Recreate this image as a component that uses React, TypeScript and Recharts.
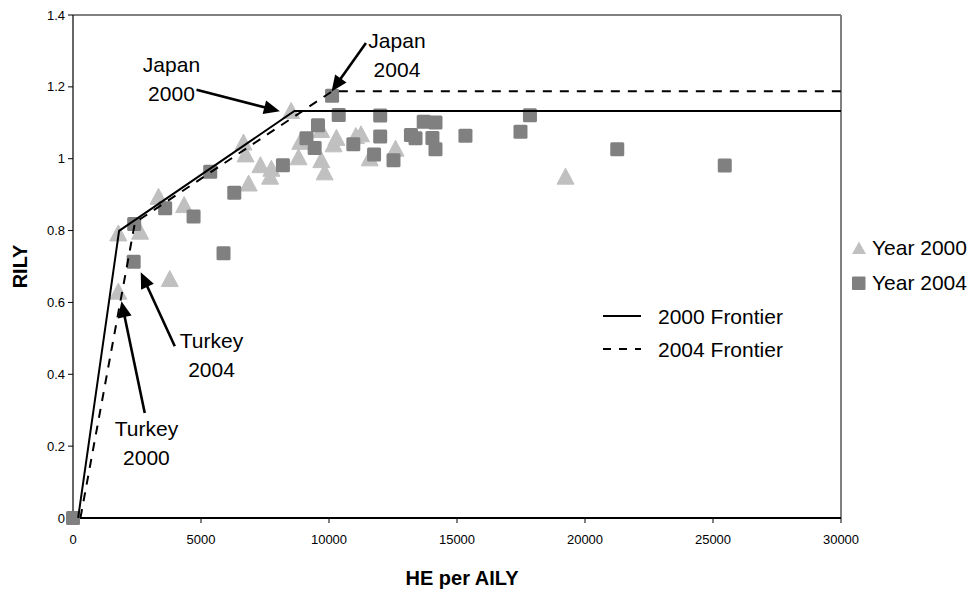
import React from 'react';
import {
  ComposedChart,
  Scatter,
  XAxis,
  YAxis,
  ReferenceLine,
  ReferenceDot,
  Legend,
} from 'recharts';

// ---------- data ----------
const xTicks = [0, 5000, 10000, 15000, 20000, 25000, 30000];
const yTicks = [0, 0.2, 0.4, 0.6, 0.8, 1, 1.2, 1.4];

const year2000 = [
  { x: 1770, y: 0.792 },
  { x: 2620, y: 0.797 },
  { x: 1770, y: 0.63 },
  { x: 3780, y: 0.665 },
  { x: 3340, y: 0.894 },
  { x: 4340, y: 0.871 },
  { x: 6660, y: 1.045 },
  { x: 6740, y: 1.012 },
  { x: 6860, y: 0.931 },
  { x: 7320, y: 0.982 },
  { x: 7750, y: 0.972 },
  { x: 7700, y: 0.95 },
  { x: 8520, y: 1.133 },
  { x: 8810, y: 1.004 },
  { x: 8880, y: 1.047 },
  { x: 9690, y: 1.08 },
  { x: 9700, y: 0.996 },
  { x: 9830, y: 0.962 },
  { x: 10290, y: 1.058 },
  { x: 10180, y: 1.04 },
  { x: 11050, y: 1.063 },
  { x: 11250, y: 1.068 },
  { x: 11590, y: 1.001 },
  { x: 12600, y: 1.028 },
  { x: 19240, y: 0.95 },
];

const year2004 = [
  { x: 0, y: 0 },
  { x: 2390, y: 0.818 },
  { x: 2370, y: 0.713 },
  { x: 3600, y: 0.862 },
  { x: 4710, y: 0.839 },
  { x: 5360, y: 0.964 },
  { x: 5880, y: 0.737 },
  { x: 6300, y: 0.905 },
  { x: 8200, y: 0.982 },
  { x: 9120, y: 1.057 },
  { x: 9440, y: 1.03 },
  { x: 9570, y: 1.093 },
  { x: 10120, y: 1.175 },
  { x: 10380, y: 1.122 },
  { x: 10950, y: 1.04 },
  { x: 11760, y: 1.012 },
  { x: 12000, y: 1.12 },
  { x: 12000, y: 1.062 },
  { x: 12520, y: 0.996 },
  { x: 13200, y: 1.066 },
  { x: 13380, y: 1.057 },
  { x: 13700, y: 1.103 },
  { x: 14040, y: 1.058 },
  { x: 14160, y: 1.101 },
  { x: 14160, y: 1.026 },
  { x: 15330, y: 1.064 },
  { x: 17480, y: 1.075 },
  { x: 17850, y: 1.121 },
  { x: 21260, y: 1.026 },
  { x: 25460, y: 0.981 },
];

const frontier2000 = [
  { x: 200, y: 0 },
  { x: 1800, y: 0.799 },
  { x: 8650, y: 1.133 },
  { x: 30000, y: 1.133 },
];

const frontier2004 = [
  { x: 290, y: 0 },
  { x: 2420, y: 0.822 },
  { x: 10130, y: 1.188 },
  { x: 30000, y: 1.188 },
];

// annotation text blocks (centre in data units) and arrows (from -> to, data units)
const annotations = [
  { lines: ['Japan', '2000'], tx: 3847, ty: 1.223, x1: 4824, y1: 1.192, x2: 8081, y2: 1.132 },
  { lines: ['Japan', '2004'], tx: 12655, ty: 1.29, x1: 11443, y1: 1.322, x2: 10101, y2: 1.187 },
  { lines: ['Turkey', '2004'], tx: 5411, ty: 0.455, x1: 3976, y1: 0.478, x2: 2647, y2: 0.684 },
  { lines: ['Turkey', '2000'], tx: 2869, ty: 0.21, x1: 2803, y1: 0.292, x2: 1892, y2: 0.603 },
];

// ---------- styling ----------
const FONT = '"Liberation Sans", Arial, Helvetica, sans-serif';
const TRI_COLOR = '#c0c0c0';
const SQ_COLOR = '#808080';
const DASH = '9 8';

const Triangle = (p: any) => {
  const { cx, cy } = p;
  if (cx == null || cy == null) return <g />;
  return (
    <polygon
      points={`${cx},${cy - 8.5} ${cx - 8.5},${cy + 7.5} ${cx + 8.5},${cy + 7.5}`}
      fill={TRI_COLOR}
      stroke={TRI_COLOR}
      strokeWidth={1}
      strokeLinejoin="round"
    />
  );
};

const Square = (p: any) => {
  const { cx, cy } = p;
  if (cx == null || cy == null) return <g />;
  return <rect x={cx - 7} y={cy - 7} width={14} height={14} rx={1.5} fill={SQ_COLOR} />;
};

const NoShape = () => <g />;

const Arrow = (p: any) => {
  const { x1, y1, x2, y2 } = p;
  if ([x1, y1, x2, y2].some((v) => v == null || isNaN(v))) return <g />;
  const dx = x2 - x1;
  const dy = y2 - y1;
  const len = Math.hypot(dx, dy) || 1;
  const ux = dx / len;
  const uy = dy / len;
  const hl = 16;
  const hw = 7;
  const bx = x2 - ux * hl;
  const by = y2 - uy * hl;
  return (
    <g>
      <line x1={x1} y1={y1} x2={bx + ux * 2} y2={by + uy * 2} stroke="#000" strokeWidth={2.6} />
      <polygon
        points={`${x2},${y2} ${bx - uy * hw},${by + ux * hw} ${bx + uy * hw},${by - ux * hw}`}
        fill="#000"
      />
    </g>
  );
};

const makeTextBlock = (lines: string[]) => (p: any) => {
  const { cx, cy } = p;
  if (cx == null || cy == null) return <g />;
  const gap = 29;
  const start = cy - ((lines.length - 1) * gap) / 2;
  return (
    <text textAnchor="middle" fontFamily={FONT} fontSize={21} fill="#000">
      {lines.map((l, i) => (
        <tspan key={i} x={cx} y={start + i * gap} dominantBaseline="central">
          {l}
        </tspan>
      ))}
    </text>
  );
};

const legendPos: Record<string, { iconX: number; textX: number; cy: number }> = {
  'Year 2000': { iconX: 851, textX: 872, cy: 248 },
  'Year 2004': { iconX: 851, textX: 872, cy: 283 },
  '2000 Frontier': { iconX: 603, textX: 658, cy: 317 },
  '2004 Frontier': { iconX: 603, textX: 658, cy: 350 },
};

const LegendIcon = ({ name }: { name: string }) => {
  if (name === 'Year 2000')
    return (
      <svg width={16} height={14}>
        <polygon points="8,0.5 1,13 15,13" fill={TRI_COLOR} />
      </svg>
    );
  if (name === 'Year 2004')
    return (
      <svg width={16} height={14}>
        <rect x={1} y={0.5} width={13.5} height={13.5} rx={1} fill={SQ_COLOR} />
      </svg>
    );
  return (
    <svg width={40} height={6}>
      <line
        x1={0}
        y1={3}
        x2={38}
        y2={3}
        stroke="#000"
        strokeWidth={2}
        strokeDasharray={name === '2004 Frontier' ? '8 8' : undefined}
      />
    </svg>
  );
};

const renderLegend = (props: any) => {
  const payload: any[] = props.payload || [];
  return (
    <div style={{ position: 'relative', width: 0, height: 0, fontFamily: FONT }}>
      {payload.map((entry: any) => {
        const name = String(entry.value);
        const pos = legendPos[name];
        if (!pos) return null;
        const isLine = name.includes('Frontier');
        return (
          <React.Fragment key={name}>
            <div
              style={{
                position: 'absolute',
                left: pos.iconX,
                top: pos.cy - (isLine ? 4 : 7),
                lineHeight: 0,
              }}
            >
              <LegendIcon name={name} />
            </div>
            <div
              style={{
                position: 'absolute',
                left: pos.textX,
                top: pos.cy - 12,
                fontSize: 21,
                lineHeight: '24px',
                whiteSpace: 'nowrap',
                color: '#000',
              }}
            >
              {name}
            </div>
          </React.Fragment>
        );
      })}
    </div>
  );
};

const YTitle = (p: any) => {
  const vb = p.viewBox || { x: 23, y: 15, width: 50, height: 503 };
  const cx = vb.x - 3;
  const cy = vb.y + vb.height / 2;
  return (
    <text
      x={cx}
      y={cy}
      transform={`rotate(-90, ${cx}, ${cy})`}
      textAnchor="middle"
      dominantBaseline="central"
      fontFamily={FONT}
      fontWeight="bold"
      fontSize={20}
      fill="#000"
    >
      RILY
    </text>
  );
};

const XTitle = (p: any) => {
  const vb = p.viewBox || { x: 73, y: 518, width: 768, height: 30 };
  const cx = vb.x + vb.width / 2 + 5;
  const cy = 578;
  return (
    <text
      x={cx}
      y={cy}
      textAnchor="middle"
      dominantBaseline="central"
      fontFamily={FONT}
      fontWeight="bold"
      fontSize={20}
      fill="#000"
    >
      HE per AILY
    </text>
  );
};

export default function App() {
  return (
    <div
      style={{
        position: 'absolute',
        left: 0,
        top: 0,
        width: 973,
        height: 597,
        background: '#fff',
        fontFamily: FONT,
      }}
    >
      <ComposedChart width={973} height={597} margin={{ top: 15, right: 132, bottom: 49, left: 23 }}>
        <XAxis
          type="number"
          dataKey="x"
          domain={[0, 30000]}
          ticks={xTicks}
          interval={0}
          height={30}
          tickSize={5}
          tickMargin={12}
          axisLine={{ stroke: '#000', strokeWidth: 2 }}
          tickLine={{ stroke: '#000', strokeWidth: 1 }}
          tick={{ fontSize: 13, fill: '#000', fontFamily: FONT }}
          label={<XTitle />}
        />
        <YAxis
          type="number"
          dataKey="y"
          domain={[0, 1.4]}
          ticks={yTicks}
          interval={0}
          width={50}
          tickSize={5}
          tickMargin={3}
          axisLine={{ stroke: '#000', strokeWidth: 1.2 }}
          tickLine={{ stroke: '#000', strokeWidth: 1 }}
          tick={{ fontSize: 13, fill: '#000', fontFamily: FONT }}
          tickFormatter={(v: number) => String(v)}
          label={<YTitle />}
        />
        <ReferenceLine y={1.4} stroke="#808080" strokeWidth={2} ifOverflow="visible" />
        <ReferenceLine x={30000} stroke="#808080" strokeWidth={2} ifOverflow="visible" />

        <Scatter
          name="Year 2000"
          data={year2000}
          fill={TRI_COLOR}
          shape={Triangle}
          legendType="triangle"
          isAnimationActive={false}
        />
        <Scatter
          name="Year 2004"
          data={year2004}
          fill={SQ_COLOR}
          shape={Square}
          legendType="square"
          isAnimationActive={false}
        />
        <Scatter
          name="2000 Frontier"
          data={frontier2000}
          fill="#000"
          shape={NoShape}
          line={{ stroke: '#000', strokeWidth: 2 }}
          lineType="joint"
          legendType="line"
          isAnimationActive={false}
        />
        <Scatter
          name="2004 Frontier"
          data={frontier2004}
          fill="#000"
          shape={NoShape}
          line={{ stroke: '#000', strokeWidth: 2, strokeDasharray: DASH }}
          lineType="joint"
          legendType="line"
          isAnimationActive={false}
        />

        {annotations.map((a, i) => (
          <ReferenceLine
            key={`arrow-${i}`}
            segment={[
              { x: a.x1, y: a.y1 },
              { x: a.x2, y: a.y2 },
            ]}
            shape={Arrow}
            ifOverflow="visible"
            zIndex={1500}
          />
        ))}
        {annotations.map((a, i) => (
          <ReferenceDot
            key={`text-${i}`}
            x={a.tx}
            y={a.ty}
            r={0}
            shape={makeTextBlock(a.lines)}
            ifOverflow="visible"
            zIndex={1500}
          />
        ))}

        <Legend
          content={renderLegend}
          wrapperStyle={{ position: 'absolute', left: 0, top: 0, width: 0, height: 0, overflow: 'visible' }}
        />
      </ComposedChart>
    </div>
  );
}
